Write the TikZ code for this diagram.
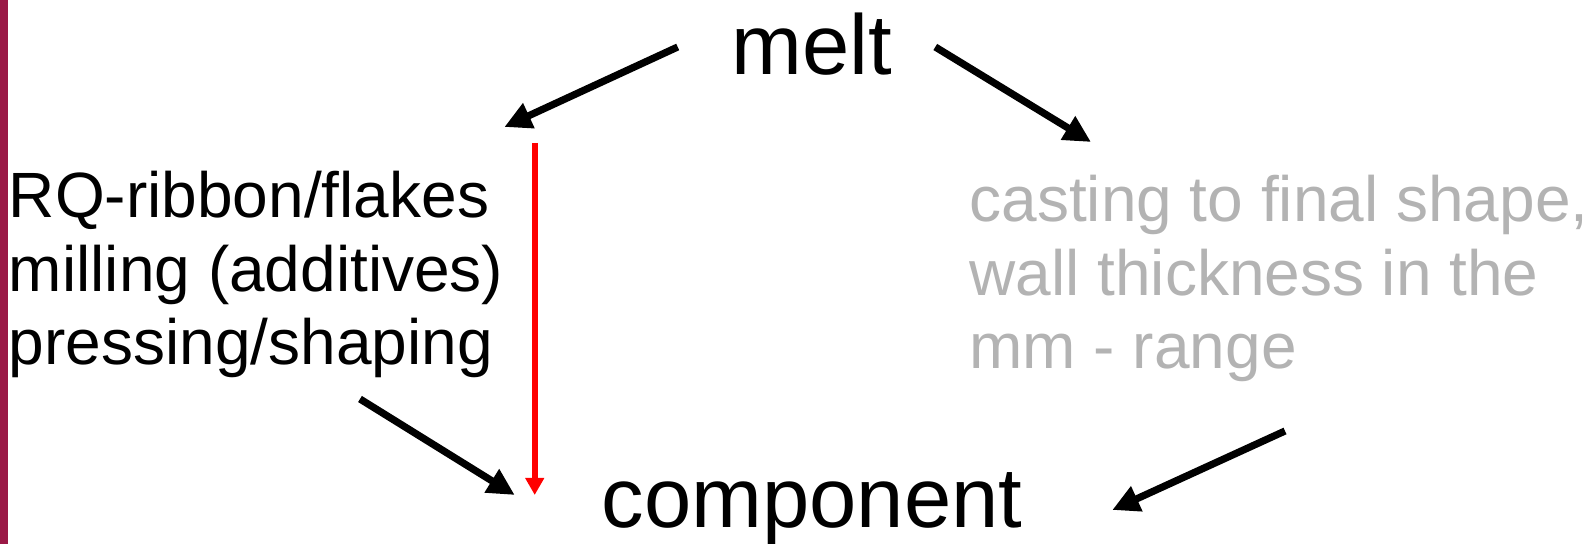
\documentclass[tikz,border=0pt]{standalone}
\usepackage{fontspec}
\setmainfont{Liberation Sans}
\usetikzlibrary{arrows.meta}
\definecolor{slidebar}{HTML}{9A1946}
\definecolor{routegray}{HTML}{B3B3B3}
\definecolor{routered}{HTML}{FF0000}

\begin{document}
\begin{tikzpicture}[
  x=0.5pt,
  y=-0.5pt,
  every node/.style={inner sep=0pt, outer sep=0pt},
  bigword/.style={font=\fontsize{42.5}{51}\selectfont, black},
  routetext/.style={font=\fontsize{32}{36.75}\selectfont, align=left},
  flow/.style={black, line width=3.6pt, -{Triangle[length=13.5pt, width=13pt]}},
  shortcut/.style={routered, line width=2.8pt, -{Triangle[length=8.5pt, width=9pt]}}
]
  % ---- page frame (pixel grid, y downwards) ----
  \useasboundingbox (0,0) rectangle (1592,544);
  \fill[slidebar] (0,0) rectangle (8,544);

  % ---- start and end of both routes ----
  \node[bigword, anchor=base] (melt) at (812,75) {melt};
  \node[bigword, anchor=base] (component) at (812,528) {component};

  % ---- powder route (left) and casting route (right), base = last line ----
  \node[routetext, anchor=base west] (ribbon) at (9,365)
    {RQ-ribbon/flakes\\milling (additives)\\pressing/shaping};
  \node[routetext, anchor=base west, routegray] (casting) at (969.5,369)
    {casting to final shape,\\wall thickness in the\\mm - range};

  % ---- arrows ----
  \draw[flow] ([shift={(-54,-28)}]melt.base west) -- ([shift={(1,-238)}]ribbon.base east);
  \draw[flow] ([shift={(43,-28)}]melt.base east) -- ([shift={(121.5,-227)}]casting.base west);
  \draw[flow] ([shift={(351,34)}]ribbon.base west) -- ([shift={(-87,-33)}]component.base west);
  \draw[flow] ([shift={(315.5,62)}]casting.base west) -- ([shift={(90,-18)}]component.base east);

  % ---- direct red link (kept vertical) ----
  \draw[shortcut] ([shift={(-67,-385)}]component.base west) -- ([shift={(-67,-33)}]component.base west);
\end{tikzpicture}
\end{document}
